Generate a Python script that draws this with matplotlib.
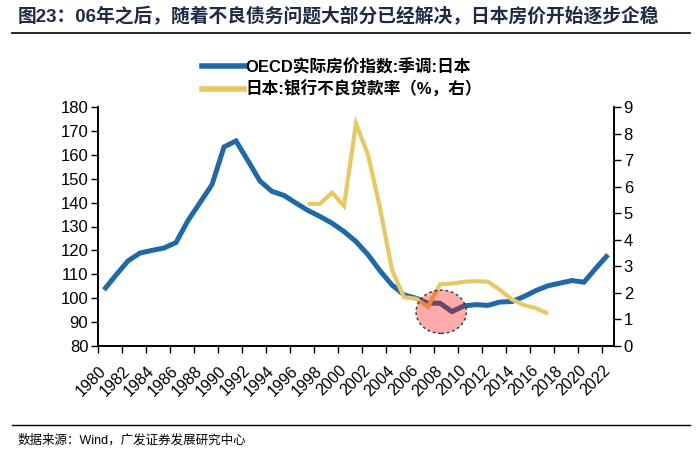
import numpy as np
import matplotlib
matplotlib.use('Agg')
import matplotlib.pyplot as plt
from matplotlib.patches import Ellipse
from matplotlib.lines import Line2D

plt.rcParams['font.family'] = ['Liberation Sans', 'Noto Sans CJK SC', 'DejaVu Sans']

years = list(range(1980, 2023))
house_price = [103.5, 109.7, 115.6, 118.9, 120.0, 121.0, 123.3, 132.5, 140.0, 147.5,
               163.3, 165.8, 157.5, 149.0, 144.7, 143.0, 139.8, 136.7, 134.2, 131.4,
               127.9, 123.7, 118.2, 111.5, 105.5, 101.4, 100.0, 97.9, 97.9, 94.4,
               96.8, 97.3, 97.0, 98.4, 98.6, 100.7, 103.2, 105.2, 106.3, 107.4,
               106.7, 112.6, 118.2]
npl_years = list(range(1997, 2018))
npl_ratio = [5.35, 5.35, 5.78, 5.27, 8.38, 7.2, 5.2, 2.86, 1.84, 1.78, 1.48,
             2.33, 2.35, 2.42, 2.44, 2.42, 2.11, 1.75, 1.54, 1.42, 1.22]

label_price = 'OECD实际房价指数:季调:日本'
label_npl = '日本:银行不良贷款率（%，右）'
title = '图23：06年之后，随着不良债务问题大部分已经解决，日本房价开始逐步企稳'
source = '数据来源：Wind，广发证券发展研究中心'

blue = '#1F6AA6'
yellow = '#E8C864'

fig = plt.figure(figsize=(7, 4.58), dpi=100)
ax = fig.add_axes([98 / 700, 1 - 346 / 458, 516 / 700, 239 / 458])
ax2 = ax.twinx()

ax.plot(years, house_price, color=blue, lw=3.6, solid_capstyle='butt', solid_joinstyle='miter')
ax2.plot(npl_years, npl_ratio, color=yellow, lw=3.0, solid_capstyle='butt', solid_joinstyle='miter')

ax.set_xlim(1979.5, 2022.5)
ax.set_ylim(80, 180)
ax.set_yticks(np.arange(80, 181, 10))
ax2.set_ylim(0, 9)
ax2.set_yticks(np.arange(0, 10, 1))

ax.set_xticks(years[::2])
ax.set_xticklabels([str(y) for y in years[::2]], rotation=45, ha='right', va='center',
                   rotation_mode='anchor', fontsize=11.5)
ax.set_xticks(np.arange(1979.5, 2022, 2), minor=True)
ax.tick_params(axis='x', which='major', length=0, pad=16)
ax.tick_params(axis='x', which='minor', length=5, width=1)
ax.tick_params(axis='y', length=5, width=1, labelsize=12, pad=2)
ax2.tick_params(axis='y', length=5, width=1, labelsize=12, pad=2)

for a in (ax, ax2):
    a.spines['top'].set_visible(False)
    for s in ('left', 'right', 'bottom'):
        a.spines[s].set_linewidth(1.2)

# highlighted circle around 2008
circle = Ellipse((2008.1, 1.29), width=4.2, height=1.63, facecolor=(1, 0, 0, 0.33),
                 edgecolor='#333333', linestyle=(0, (2, 2)), linewidth=1, zorder=5)
ax2.add_patch(circle)

handles = [Line2D([], [], color=blue, lw=4), Line2D([], [], color=yellow, lw=4)]
fig.legend(handles, [label_price, label_npl], loc='center', bbox_to_anchor=(342 / 700, 1 - 78 / 458),
           frameon=False, handlelength=2.5, handletextpad=0.1, labelspacing=0.3,
           prop={'size': 12, 'weight': 'bold'})

fig.text(18 / 700, 1 - 17 / 458, title, fontsize=13.5, fontweight='bold', color='#1F2A44',
         ha='left', va='center')
fig.add_artist(Line2D([12 / 700, 690 / 700], [1 - 33 / 458] * 2, color='black', lw=1.2))
fig.add_artist(Line2D([12 / 700, 690 / 700], [1 - 425 / 458] * 2, color='black', lw=1.0))
fig.text(18 / 700, 1 - 440 / 458, source, fontsize=9, ha='left', va='center')

fig.savefig('out.png', dpi=100)
